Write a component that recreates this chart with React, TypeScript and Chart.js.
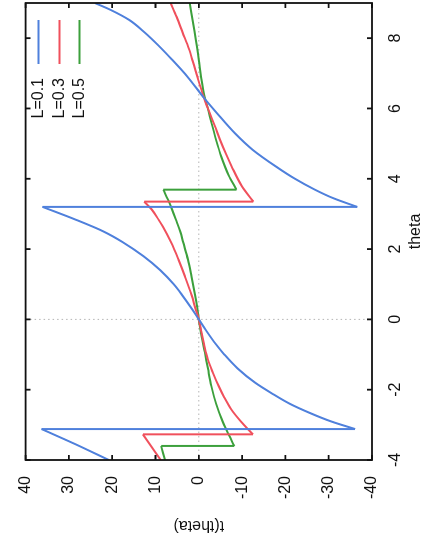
import React, { useEffect, useRef } from 'react';
import { Chart, registerables } from 'chart.js';

Chart.register(...registerables);

// Axis ticks
const thetaTicks = [-4, -2, 0, 2, 4, 6, 8];
const tTicks = [-40, -30, -20, -10, 0, 10, 20, 30, 40];

// Series
const seriesLabels = ['L=0.1', 'L=0.3', 'L=0.5'];
const seriesColors = ['#4f80dc', '#f0505c', '#3ca03c'];

const thetaL01 = [-4, -3.55, -3.12, -3.12, -2.9, -2.67, -2.4, -2.1, -1.8, -1.4, -1.0, -0.7, -0.3, 0, 0.3, 0.7, 1.0, 1.4, 1.8, 2.2, 2.5, 2.84, 3.2, 3.2, 3.45, 3.69, 4.0, 4.35, 4.83, 5.3, 5.88, 6.3, 6.9, 7.39, 7.8, 8.15, 8.52, 8.8, 9];
const tL01 = [20.8, 28.5, 36.3, -36.1, -30.5, -25.8, -21, -16.8, -13, -9.0, -5.9, -3.9, -1.6, 0, 1.6, 3.9, 5.8, 8.9, 12.8, 17.6, 22, 28.5, 36.1, -36.6, -31, -26.8, -22.2, -17.8, -12.4, -8.3, -4.1, -1.2, 2.6, 6.2, 9.4, 12.4, 16.1, 20.3, 24.0];

const thetaL03 = [-4, -3.27, -3.27, -2.9, -2.56, -2.2, -1.9, -1.5, -1.14, -0.7, -0.37, 0, 0.28, 0.7, 1.22, 1.7, 2.19, 2.64, 2.84, 3.13, 3.35, 3.35, 3.8, 4.35, 4.7, 5.11, 5.5, 5.97, 6.34, 6.8, 7.3, 7.7, 8.15, 8.6, 9];
const tL03 = [8.8, 12.9, -12.5, -9.7, -7.5, -5.8, -4.6, -3.2, -2.1, -1.2, -0.6, 0, 0.7, 1.7, 3.2, 4.7, 6.4, 8.3, 9.3, 10.9, 12.6, -12.6, -9.9, -7.6, -6.3, -4.9, -3.7, -2.2, -1.1, 0.1, 1.3, 2.3, 3.7, 5.1, 6.5];

const thetaL05 = [-4, -3.6, -3.6, -3.2, -2.84, -2.4, -1.9, -1.4, -0.94, -0.5, 0, 0.28, 0.7, 1.22, 1.7, 2.19, 2.5, 2.84, 3.13, 3.4, 3.69, 3.69, 4.1, 4.63, 5.1, 5.6, 6.0, 6.34, 6.9, 7.39, 8.2, 9];
const tL05 = [7.8, 8.7, -8.2, -6.6, -5.3, -4.0, -2.9, -2.1, -1.4, -0.7, 0, 0.3, 0.9, 1.7, 2.5, 3.6, 4.3, 5.3, 6.2, 7.1, 8.2, -8.7, -6.9, -5.2, -4.0, -2.9, -2.1, -1.3, -0.5, 0.0, 1.0, 2.1];

const seriesTheta = [thetaL01, thetaL03, thetaL05];
const seriesT = [tL01, tL03, tL05];

const FONT = '"Liberation Sans", Arial, Helvetica, sans-serif';
const W = 542;
const H = 430;

// split a series into smooth branches and vertical jumps (points sharing the same theta)
function buildDatasets(i: number) {
  const th = seriesTheta[i];
  const tv = seriesT[i];
  const out: any[] = [];
  let cur: { x: number; y: number }[] = [];
  const base = {
    borderColor: seriesColors[i],
    backgroundColor: seriesColors[i],
    borderWidth: 2,
    pointRadius: 0,
    showLine: true,
    fill: false,
  };
  for (let k = 0; k < th.length; k++) {
    if (k > 0 && th[k] === th[k - 1]) {
      out.push({ ...base, label: seriesLabels[i], data: cur, cubicInterpolationMode: 'monotone' });
      out.push({
        ...base,
        label: seriesLabels[i],
        data: [
          { x: th[k - 1], y: tv[k - 1] },
          { x: th[k], y: tv[k] },
        ],
        tension: 0,
      });
      cur = [];
    }
    cur.push({ x: th[k], y: tv[k] });
  }
  out.push({ ...base, label: seriesLabels[i], data: cur, cubicInterpolationMode: 'monotone' });
  return out;
}

const framePlugin = {
  id: 'gnuframe',
  beforeDatasetsDraw(chart: any) {
    const { ctx, chartArea: a, scales } = chart;
    const x0 = scales.x.getPixelForValue(0);
    const y0 = scales.y.getPixelForValue(0);
    ctx.save();
    ctx.strokeStyle = '#b4b4b4';
    ctx.lineWidth = 1;
    ctx.setLineDash([1.5, 3]);
    ctx.beginPath();
    ctx.moveTo(x0, a.top);
    ctx.lineTo(x0, a.bottom);
    ctx.moveTo(a.left, y0);
    ctx.lineTo(a.right, y0);
    ctx.stroke();
    ctx.restore();
  },
  afterDraw(chart: any) {
    const { ctx, chartArea: a, scales } = chart;
    ctx.save();
    ctx.strokeStyle = '#111';
    ctx.lineWidth = 1.8;
    ctx.setLineDash([]);
    ctx.strokeRect(a.left, a.top, a.right - a.left, a.bottom - a.top);
    const tl = 5;
    ctx.beginPath();
    for (const v of thetaTicks) {
      const px = scales.x.getPixelForValue(v);
      ctx.moveTo(px, a.bottom);
      ctx.lineTo(px, a.bottom - tl);
      ctx.moveTo(px, a.top);
      ctx.lineTo(px, a.top + tl);
    }
    for (const v of tTicks) {
      const py = scales.y.getPixelForValue(v);
      ctx.moveTo(a.left, py);
      ctx.lineTo(a.left + tl, py);
      ctx.moveTo(a.right, py);
      ctx.lineTo(a.right - tl, py);
    }
    ctx.stroke();

    // gnuplot-style legend: text then line sample, top right
    ctx.font = '16px ' + FONT;
    ctx.textAlign = 'right';
    ctx.textBaseline = 'middle';
    const rows = [13, 34, 54];
    seriesLabels.forEach((lab, i) => {
      const yy = a.top + rows[i];
      ctx.fillStyle = '#111';
      ctx.fillText(lab, a.right - 75, yy);
      ctx.strokeStyle = seriesColors[i];
      ctx.lineWidth = 2;
      ctx.beginPath();
      ctx.moveTo(a.right - 61, yy);
      ctx.lineTo(a.right - 17, yy);
      ctx.stroke();
    });
    ctx.restore();
  },
};

export default function App() {
  const ref = useRef<HTMLCanvasElement | null>(null);

  useEffect(() => {
    if (!ref.current) return;
    const datasets = seriesLabels.flatMap((_, i) => buildDatasets(i));
    const chart = new Chart(ref.current, {
      type: 'scatter',
      data: { datasets },
      options: {
        responsive: false,
        animation: false,
        devicePixelRatio: 1,
        layout: { padding: { top: 23, right: 3, left: 0, bottom: 0 } },
        plugins: { legend: { display: false }, tooltip: { enabled: false } },
        scales: {
          x: {
            type: 'linear',
            min: -4,
            max: 9,
            grid: { display: false, drawTicks: false },
            border: { display: false },
            afterBuildTicks: (s: any) => {
              s.ticks = thetaTicks.map((v) => ({ value: v }));
            },
            afterFit: (s: any) => {
              s.height = 58;
            },
            ticks: {
              color: '#111',
              padding: 14,
              maxRotation: 0,
              autoSkip: false,
              font: { family: FONT, size: 16 },
            },
            title: {
              display: true,
              text: 'theta',
              color: '#111',
              padding: { top: 0, bottom: 5 },
              font: { family: FONT, size: 16 },
            },
          },
          y: {
            type: 'linear',
            min: -40,
            max: 40,
            grid: { display: false, drawTicks: false },
            border: { display: false },
            afterBuildTicks: (s: any) => {
              s.ticks = tTicks.map((v) => ({ value: v }));
            },
            afterFit: (s: any) => {
              s.width = 82;
            },
            ticks: {
              color: '#111',
              padding: 16,
              autoSkip: false,
              font: { family: FONT, size: 16 },
            },
            title: {
              display: true,
              text: 't(theta)',
              color: '#111',
              padding: { top: 7, bottom: 0 },
              font: { family: FONT, size: 16 },
            },
          },
        },
      },
      plugins: [framePlugin],
    });
    return () => chart.destroy();
  }, []);

  return (
    <div style={{ position: 'absolute', left: 0, top: 0, width: 430, height: 542, overflow: 'hidden', background: '#fff' }}>
      <div
        style={{
          position: 'absolute',
          left: 0,
          top: 0,
          width: W,
          height: H,
          transformOrigin: '0 0',
          transform: `translate(0px, ${W}px) rotate(-90deg)`,
        }}
      >
        <canvas ref={ref} width={W} height={H} style={{ display: 'block', width: W, height: H }} />
      </div>
    </div>
  );
}
